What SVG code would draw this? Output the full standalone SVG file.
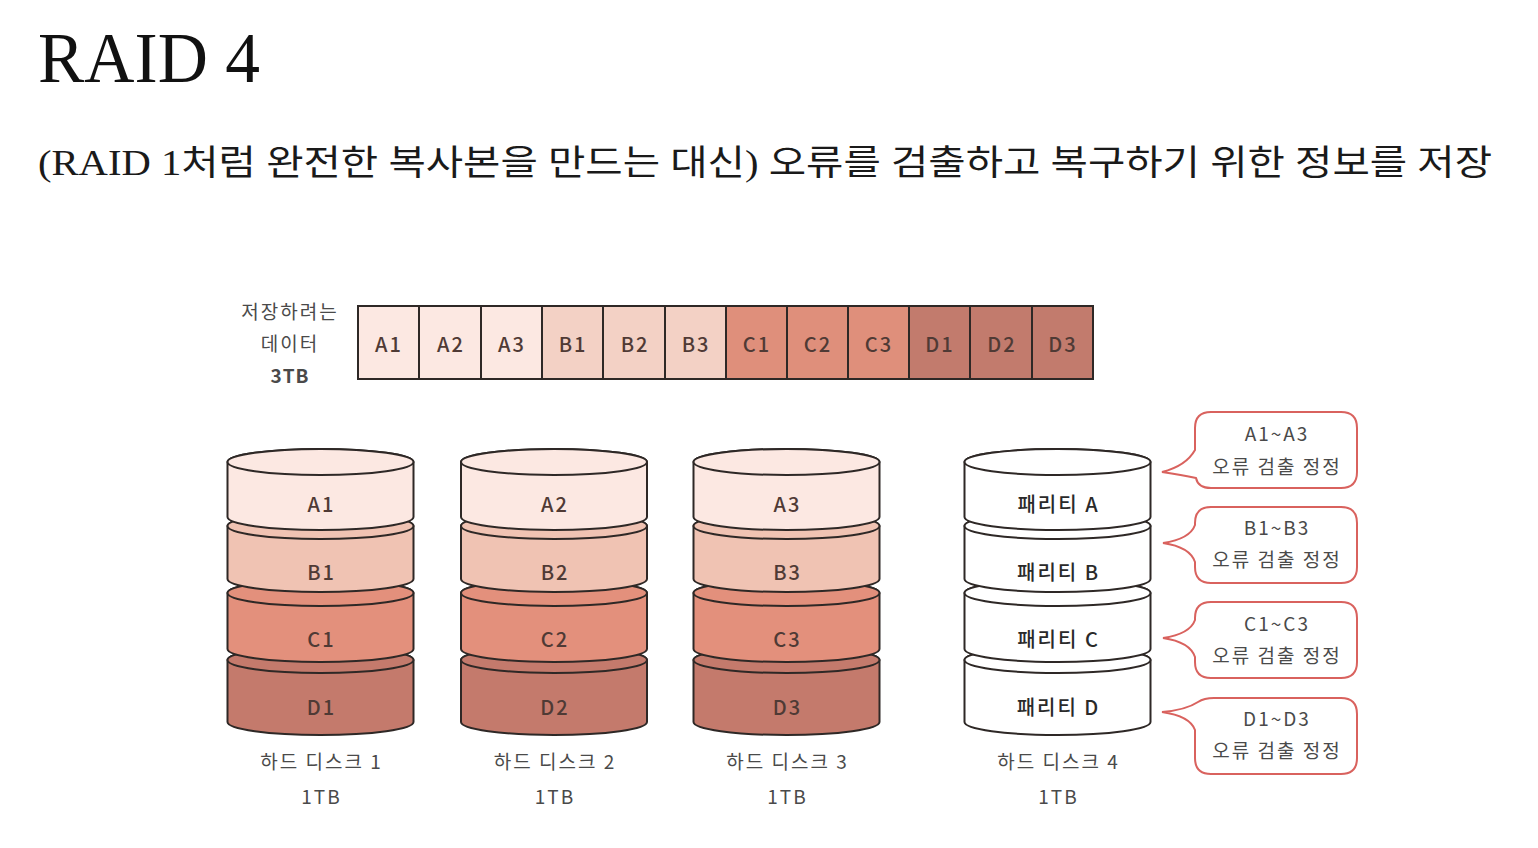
<svg xmlns="http://www.w3.org/2000/svg" width="1538" height="848" viewBox="0 0 1538 848">
<style>
.t{font-family:"Noto Sans CJK KR","Noto Sans",sans-serif;text-anchor:middle;dominant-baseline:central}
.cell{stroke:#2e2826;stroke-width:2}
.lbl{font-size:20px;fill:#4f3a35;letter-spacing:2px;font-weight:500}
.small{font-size:19px;fill:#4a4a4a;letter-spacing:2px}
.lay{stroke:#2e2826;stroke-width:2}
.la{fill:#fce8e2}.lb{fill:#f0c3b3}.lc{fill:#e3907c}.ld{fill:#c47a6c}.lw{fill:#ffffff}
.bub{fill:#ffffff;stroke:#d9625e;stroke-width:2}
</style>
<rect width="1538" height="848" fill="#ffffff"/>
<g id="title">
<text x="38" y="82" font-family="Liberation Serif, serif" font-size="72" fill="#111" textLength="222" lengthAdjust="spacingAndGlyphs">RAID 4</text>
</g>
<g id="subtitle">
<text x="38" y="175" font-family="Liberation Serif, 'Noto Sans CJK KR', serif" font-size="35" fill="#1a1a1a" textLength="1454" lengthAdjust="spacingAndGlyphs">(RAID 1처럼 완전한 복사본을 만드는 대신) 오류를 검출하고 복구하기 위한 정보를 저장</text>
</g>
<g id="data-label">
<text class="t small" x="290" y="310">저장하려는</text>
<text class="t small" x="290" y="342">데이터</text>
<text class="t small" x="290" y="374" style="font-weight:bold;letter-spacing:1px">3TB</text>
</g>
<g id="data-strip">
<rect class="cell la" x="358" y="306" width="61" height="73"/>
<rect class="cell la" x="419" y="306" width="62" height="73"/>
<rect class="cell la" x="481" y="306" width="61" height="73"/>
<rect class="cell" fill="#f3d1c5" x="542" y="306" width="61" height="73"/>
<rect class="cell" fill="#f3d1c5" x="603" y="306" width="62" height="73"/>
<rect class="cell" fill="#f3d1c5" x="665" y="306" width="61" height="73"/>
<rect class="cell" fill="#df8f7b" x="726" y="306" width="61" height="73"/>
<rect class="cell" fill="#df8f7b" x="787" y="306" width="61" height="73"/>
<rect class="cell" fill="#df8f7b" x="848" y="306" width="61" height="73"/>
<rect class="cell" fill="#c27b6d" x="909" y="306" width="61" height="73"/>
<rect class="cell" fill="#c27b6d" x="970" y="306" width="62" height="73"/>
<rect class="cell" fill="#c27b6d" x="1032" y="306" width="61" height="73"/>
<g class="t lbl">
<text x="389" y="343">A1</text><text x="451" y="343">A2</text><text x="512" y="343">A3</text>
<text x="573" y="343">B1</text><text x="635" y="343">B2</text><text x="696" y="343">B3</text>
<text x="757" y="343">C1</text><text x="818" y="343">C2</text><text x="879" y="343">C3</text>
<text x="940" y="343">D1</text><text x="1002" y="343">D2</text><text x="1063" y="343">D3</text>
</g>
</g>
<defs>
<g id="cylD"><path class="lay" d="M-93,660 V722 A93,13 0 0 0 93,722 V660 A93,13 0 0 0 -93,660 Z"/><ellipse class="lay" cx="0" cy="660" rx="93" ry="13"/></g>
<g id="cylC"><path class="lay" d="M-93,593 V649 A93,13 0 0 0 93,649 V593 A93,13 0 0 0 -93,593 Z"/><ellipse class="lay" cx="0" cy="593" rx="93" ry="13"/></g>
<g id="cylB"><path class="lay" d="M-93,526 V579 A93,13 0 0 0 93,579 V526 A93,13 0 0 0 -93,526 Z"/><ellipse class="lay" cx="0" cy="526" rx="93" ry="13"/></g>
<g id="cylA"><path class="lay" d="M-93,462 V517 A93,13 0 0 0 93,517 V462 A93,13 0 0 0 -93,462 Z"/><ellipse class="lay" cx="0" cy="462" rx="93" ry="13"/></g>
</defs>
<g id="disk1" transform="translate(320.5,0)">
<use href="#cylD" class="ld"/><use href="#cylC" class="lc"/><use href="#cylB" class="lb"/><use href="#cylA" class="la"/>
<g class="t lbl"><text x="1" y="503">A1</text><text x="1" y="571">B1</text><text x="1" y="638">C1</text><text x="1" y="706">D1</text></g>
<text class="t small" x="1" y="760">하드 디스크 1</text><text class="t small" x="1" y="795">1TB</text>
</g>
<g id="disk2" transform="translate(554,0)">
<use href="#cylD" class="ld"/><use href="#cylC" class="lc"/><use href="#cylB" class="lb"/><use href="#cylA" class="la"/>
<g class="t lbl"><text x="1" y="503">A2</text><text x="1" y="571">B2</text><text x="1" y="638">C2</text><text x="1" y="706">D2</text></g>
<text class="t small" x="1" y="760">하드 디스크 2</text><text class="t small" x="1" y="795">1TB</text>
</g>
<g id="disk3" transform="translate(786.5,0)">
<use href="#cylD" class="ld"/><use href="#cylC" class="lc"/><use href="#cylB" class="lb"/><use href="#cylA" class="la"/>
<g class="t lbl"><text x="1" y="503">A3</text><text x="1" y="571">B3</text><text x="1" y="638">C3</text><text x="1" y="706">D3</text></g>
<text class="t small" x="1" y="760">하드 디스크 3</text><text class="t small" x="1" y="795">1TB</text>
</g>
<g id="disk4" transform="translate(1057.5,0)">
<use href="#cylD" class="lw"/><use href="#cylC" class="lw"/><use href="#cylB" class="lw"/><use href="#cylA" class="lw"/>
<g class="t lbl" style="fill:#2a2a2a"><text x="1" y="503">패리티 A</text><text x="1" y="571">패리티 B</text><text x="1" y="638">패리티 C</text><text x="1" y="706">패리티 D</text></g>
<text class="t small" x="1" y="760">하드 디스크 4</text><text class="t small" x="1" y="795">1TB</text>
</g>
<g id="connectors">
<path class="bub" d="M1211,412 H1341 Q1357,412 1357,428 V472 Q1357,488 1341,488 H1211 Q1198,488 1196,478 Q1182,475 1162,472 Q1186,466 1195,450 V428 Q1195,412 1211,412 Z"/>
<path class="bub" d="M1211,507 H1341 Q1357,507 1357,523 V567 Q1357,583 1341,583 H1211 Q1195,583 1195,567 V562 Q1190,547 1163,543 Q1190,539 1195,525 V523 Q1195,507 1211,507 Z"/>
<path class="bub" d="M1211,602 H1341 Q1357,602 1357,618 V662 Q1357,678 1341,678 H1211 Q1195,678 1195,662 V657 Q1190,642 1163,638 Q1190,634 1195,620 V618 Q1195,602 1211,602 Z"/>
<path class="bub" d="M1214,698 H1341 Q1357,698 1357,714 V758 Q1357,774 1341,774 H1211 Q1195,774 1195,758 V730 Q1190,716 1162,712 Q1186,710 1198,702 Q1204,698 1214,698 Z"/>
</g>
<g id="note1"><text class="t small" x="1277" y="432">A1~A3</text><text class="t small" x="1277" y="465">오류 검출 정정</text></g>
<g id="note2"><text class="t small" x="1277" y="526">B1~B3</text><text class="t small" x="1277" y="558">오류 검출 정정</text></g>
<g id="note3"><text class="t small" x="1277" y="622">C1~C3</text><text class="t small" x="1277" y="654">오류 검출 정정</text></g>
<g id="note4"><text class="t small" x="1277" y="717">D1~D3</text><text class="t small" x="1277" y="749">오류 검출 정정</text></g>
</svg>
